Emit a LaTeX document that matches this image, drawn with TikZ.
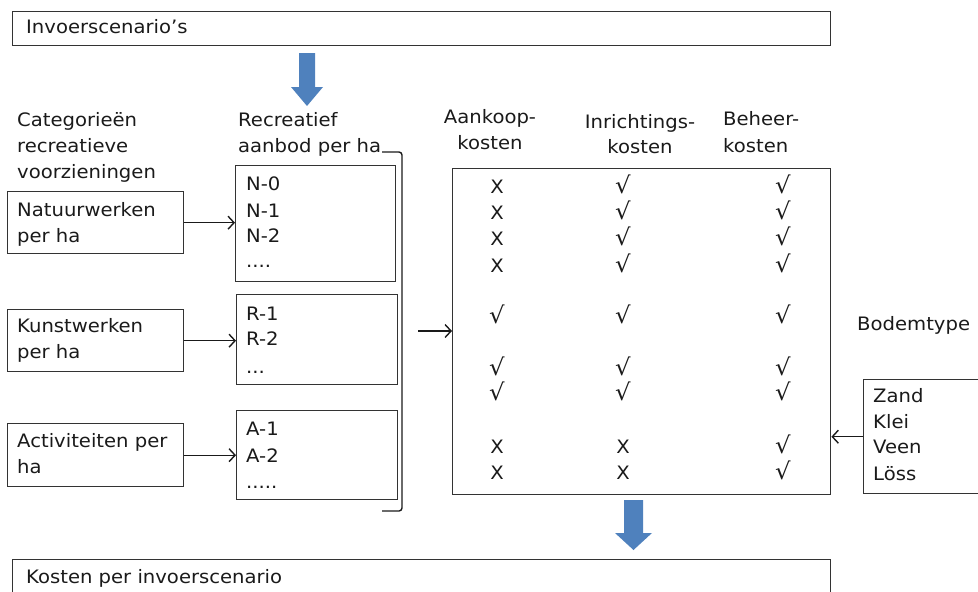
\documentclass[tikz,border=0pt]{standalone}
\usepackage{fontspec}
\setmainfont{DejaVu Sans}[FakeStretch=1.06]
\usetikzlibrary{arrows.meta}
\definecolor{ink}{HTML}{1A1A1A}
\definecolor{framec}{HTML}{333333}
\definecolor{flowblue}{RGB}{79,129,189}
\newcommand{\yes}{{\fontsize{23}{26}\selectfont √}}
\tikzset{
  box/.style={draw=framec, line width=1.4pt, rectangle, anchor=north west, inner sep=0pt},
  txt/.style={anchor=base west, inner sep=0pt, text=ink, font=\fontsize{18.5}{26}\selectfont},
  mk/.style={anchor=base, inner sep=0pt, text=ink, font=\fontsize{18.5}{26}\selectfont},
  link/.style={draw=ink, line width=1.4pt, -{Straight Barb[length=6pt,width=13pt,line width=1.4pt]}},
  bigarrow/.style={fill=flowblue, draw=none},
}
\begin{document}
\begin{tikzpicture}[x=1pt, y=-1pt]
\useasboundingbox (0,0) rectangle (978,592);

% input and output frames
\node[box, minimum width=818, minimum height=34] (inv) at (12,11) {};
\node[txt] (invt) at (26,33) {Invoerscenario’s};
\node[box, minimum width=818, minimum height=50] (out) at (12,559) {};
\node[txt] (outt) at (26,583) {Kosten per invoerscenario};

% blue flow arrows
\fill[bigarrow] (299,53) -- (315,53) -- (315,87) -- (323,87) -- (307,106) -- (291,87) -- (299,87) -- cycle;
\fill[bigarrow] (624,500) -- (643,500) -- (643,533) -- (652,533) -- (633.5,550) -- (615,533) -- (624,533) -- cycle;

% column headings on the left
\node[txt] (cat1) at (17,126) {Categorieën};
\node[txt] (cat2) at (17,152) {recreatieve};
\node[txt] (cat3) at (17,178) {voorzieningen};
\node[txt] (rec1) at (238,126) {Recreatief};
\node[txt] (rec2) at (238,152) {aanbod per ha};

% category boxes
\node[box, minimum width=176, minimum height=62] (nat) at (7,191) {};
\node[txt] (nat1) at (17,216) {Natuurwerken};
\node[txt] (nat2) at (17,242) {per ha};
\node[box, minimum width=176, minimum height=62] (kun) at (7,309) {};
\node[txt] (kun1) at (17,332) {Kunstwerken};
\node[txt] (kun2) at (17,358) {per ha};
\node[box, minimum width=176, minimum height=63] (act) at (7,423) {};
\node[txt] (act1) at (17,447) {Activiteiten per};
\node[txt] (act2) at (17,473) {ha};

% supply boxes
\node[box, minimum width=160, minimum height=116] (nbox) at (235,165) {};
\node[txt] (n0) at (246,190) {N-0};
\node[txt] (n1) at (246,217) {N-1};
\node[txt] (n2) at (246,242) {N-2};
\node[txt] (n3) at (246,267) {....};
\node[box, minimum width=161, minimum height=90] (rbox) at (236,294) {};
\node[txt] (r1) at (246,320) {R-1};
\node[txt] (r2) at (246,345) {R-2};
\node[txt] (r3) at (246,373) {...};
\node[box, minimum width=161, minimum height=89] (abox) at (236,410) {};
\node[txt] (a1) at (246,435) {A-1};
\node[txt] (a2) at (246,462) {A-2};
\node[txt] (a3) at (246,488) {.....};

\draw[link] (nat.east) -- (nat.east -| nbox.west);
\draw[link] (kun.east) -- (kun.east -| rbox.west);
\draw[link] (act.east) -- (act.east -| abox.west);

% bracket grouping the supply boxes
\draw[draw=ink, line width=1.4pt, rounded corners=3pt] (382,152) -- (402,152) -- (402,511) -- (382,511);

% cost matrix
\node[box, minimum width=378, minimum height=326] (big) at (452,168) {};
\coordinate (brk) at (418,331);
\draw[link] (brk) -- (brk -| big.west);

\node[mk] (h1a) at (490,123) {Aankoop-};
\node[mk] (h1b) at (490,149) {kosten};
\node[mk] (h2a) at (640,128) {Inrichtings-};
\node[mk] (h2b) at (640,153) {kosten};
\node[txt] (h3a) at (723,125) {Beheer-};
\node[txt] (h3b) at (723,152) {kosten};

\foreach \r/\y/\a/\b/\c in {1/193/X/\yes/\yes, 2/219/X/\yes/\yes, 3/245/X/\yes/\yes, 4/272/X/\yes/\yes,
  5/323/\yes/\yes/\yes, 6/375/\yes/\yes/\yes, 7/400/\yes/\yes/\yes, 8/453/X/X/\yes, 9/479/X/X/\yes}{
  \node[mk] (ma\r) at (497,\y) {\a};
  \node[mk] (mb\r) at (623,\y) {\b};
  \node[mk] (mc\r) at (783,\y) {\c};
}

% soil types
\node[txt] (bod) at (857,330) {Bodemtype};
\node[box, minimum width=130, minimum height=114] (soil) at (863,379) {};
\node[txt] (s1) at (873,402) {Zand};
\node[txt] (s2) at (873,428) {Klei};
\node[txt] (s3) at (873,453) {Veen};
\node[txt] (s4) at (873,480) {Löss};
\draw[link] (soil.west) -- (soil.west -| big.east);
\end{tikzpicture}
\end{document}
